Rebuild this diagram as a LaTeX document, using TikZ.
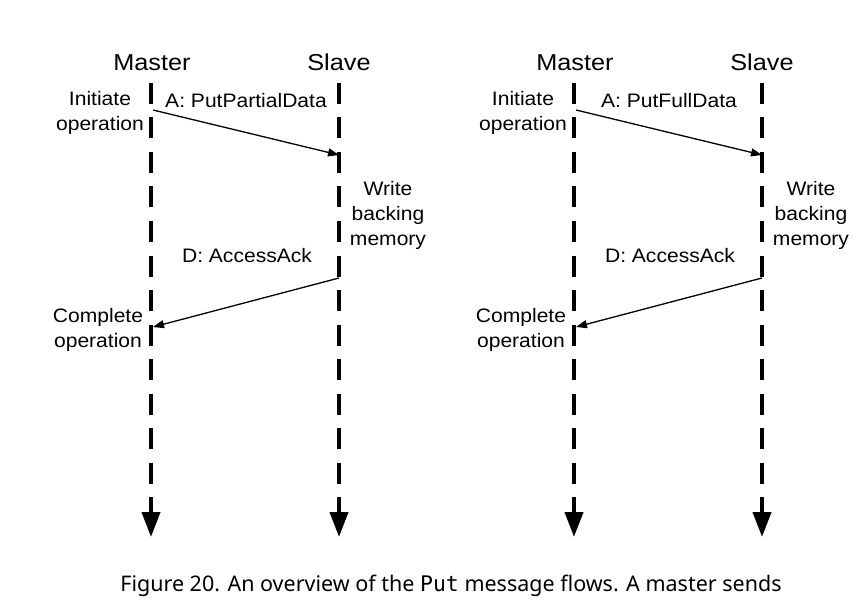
\documentclass[tikz,border=0pt]{standalone}
\usepackage{fontspec}
\setmainfont{Liberation Sans}
\newfontfamily\diagfont[FakeStretch=1.08]{Liberation Sans}
\newfontfamily\headfont[FakeStretch=1.1]{Liberation Sans}
\newfontfamily\capfont{Noto Sans}
\newfontfamily\capmono{DejaVu Sans Mono}
\usetikzlibrary{arrows.meta}
\begin{document}
\begin{tikzpicture}[x=1pt,y=-1pt,
  lifeline/.style={line width=4pt, dash pattern=on 21pt off 13.5pt,
    -{Triangle[width=18pt,length=25pt]}},
  msg/.style={line width=1.3pt, -{Triangle[width=8pt,length=11pt]}},
  head/.style={font=\headfont\fontsize{23}{26}\selectfont, inner sep=0pt, anchor=base},
  lbl/.style={font=\diagfont\fontsize{19.5}{25}\selectfont, inner sep=0pt, anchor=base, align=center},
  captext/.style={font=\capfont\fontsize{21.5}{26}\selectfont, inner sep=0pt, anchor=base, text=black}]
\useasboundingbox (0,0) rectangle (860,615);
\foreach \p/\dx in {L/0, R/423} {
  \coordinate (\p mtop) at (151+\dx,83);
  \coordinate (\p mbot) at (151+\dx,537);
  \coordinate (\p stop) at (339+\dx,83);
  \coordinate (\p sbot) at (339+\dx,537);
  \coordinate (\p req0) at (153+\dx,110);
  \coordinate (\p req1) at (339+\dx,155);
  \coordinate (\p rsp0) at (339+\dx,278);
  \coordinate (\p rsp1) at (153+\dx,327);
  \draw[lifeline] (\p mtop) -- (\p mbot);
  \draw[lifeline] (\p stop) -- (\p sbot);
  \draw[msg] (\p req0) -- (\p req1);
  \draw[msg] (\p rsp0) -- (\p rsp1);
  \node[head] (\p master) at (152+\dx,71) {Master};
  \node[head] (\p slave) at (339+\dx,71) {Slave};
  \node[lbl] (\p init) at (100+\dx,131) {Initiate\\operation};
  \node[lbl] (\p write) at (388+\dx,245) {Write\\backing\\memory};
  \node[lbl] (\p ack) at (247+\dx,262) {D: AccessAck};
  \node[lbl] (\p done) at (98+\dx,347) {Complete\\operation};
}
\node[lbl] (Lreq) at (246,108) {A: PutPartialData};
\node[lbl] (Rreq) at (669,108) {A: PutFullData};
\node[captext] (caption) at (451,591) {Figure 20. An overview of the {\capmono Put} message flows. A master sends};
\end{tikzpicture}
\end{document}
